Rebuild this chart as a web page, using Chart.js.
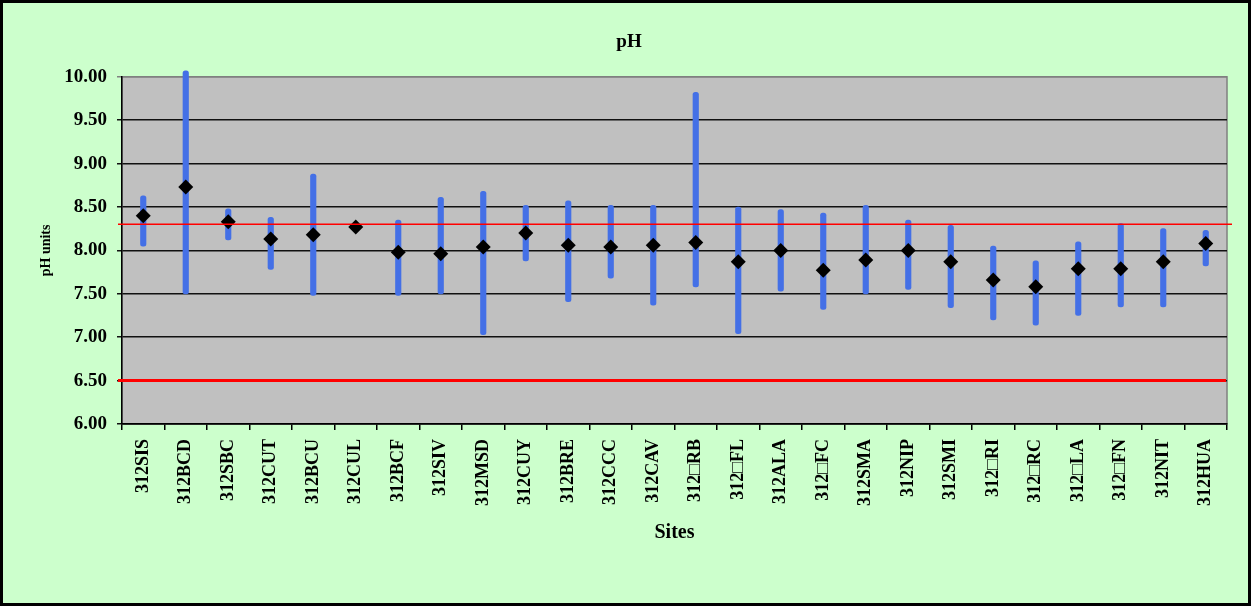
<!DOCTYPE html>
<html>
<head>
<meta charset="utf-8">
<script src="https://cdn.jsdelivr.net/npm/chart.js@4/dist/chart.umd.min.js"></script>
<style>
  html, body { margin: 0; padding: 0; background: #fff; }
</style>
</head>
<body>
<canvas id="phChart" width="1251" height="606"></canvas>
<script>
// sites along the x axis
const sites = ['312SIS', '312BCD', '312SBC', '312CUT', '312BCU', '312CUL', '312BCF', '312SIV', '312MSD',
  '312CUY', '312BRE', '312CCC', '312CAV', '312\u25A1RB', '312\u25A1FL', '312ALA', '312\u25A1FC', '312SMA',
  '312NIP', '312SMI', '312\u25A1RI', '312\u25A1RC', '312\u25A1LA', '312\u25A1FN', '312NIT', '312HUA'];

// mean, min and max pH per site
const phMean = [8.40, 8.73, 8.33, 8.13, 8.18, 8.27, 7.98, 7.96, 8.04, 8.20, 8.06, 8.04, 8.06,
  8.09, 7.87, 8.00, 7.77, 7.89, 8.00, 7.87, 7.66, 7.58, 7.79, 7.79, 7.87, 8.08];
const phMin = [8.05, 7.50, 8.12, 7.78, 7.48, null, 7.48, 7.50, 7.03, 7.88, 7.41, 7.68, 7.37,
  7.58, 7.04, 7.53, 7.32, 7.50, 7.55, 7.34, 7.20, 7.14, 7.25, 7.35, 7.35, 7.82];
const phMax = [8.63, 10.07, 8.48, 8.38, 8.88, null, 8.35, 8.61, 8.68, 8.52, 8.57, 8.52, 8.52,
  9.82, 8.50, 8.47, 8.43, 8.52, 8.35, 8.29, 8.05, 7.88, 8.10, 8.31, 8.25, 8.23];

// guideline values
const upperLimit = 8.3;
const lowerLimit = 6.5;

// y axis range
const yMin = 6, yMax = 10, yStep = 0.5;

const serif = '"Liberation Serif", "Times New Roman", serif';

const ranges = sites.map((s, i) => phMin[i] == null ? null : [phMin[i], phMax[i]]);

const backdrop = {
  id: 'backdrop',
  beforeDraw(chart) {
    const { ctx, chartArea: a } = chart;
    ctx.save();
    ctx.fillStyle = '#CCFFCC';
    ctx.fillRect(0, 0, chart.width, chart.height);
    ctx.fillStyle = '#C0C0C0';
    ctx.fillRect(a.left, a.top, a.right - a.left, a.bottom - a.top);
    ctx.strokeStyle = '#808080';
    ctx.lineWidth = 1.5;
    ctx.strokeRect(a.left, a.top, a.right - a.left, a.bottom - a.top);
    ctx.restore();
  },
  afterDraw(chart) {
    const ctx = chart.ctx;
    ctx.save();
    ctx.strokeStyle = '#000';
    ctx.lineWidth = 3;
    ctx.strokeRect(1.5, 1.5, chart.width - 3, chart.height - 3);
    ctx.restore();
  }
};

// red guideline limits, on top of the bars and markers
const limitLines = {
  id: 'limitLines',
  afterDatasetsDraw(chart) {
    const { ctx, chartArea: a } = chart;
    const y = chart.scales.y;
    ctx.save();
    ctx.strokeStyle = '#FF0000';
    ctx.lineWidth = 1.5;
    ctx.beginPath();
    ctx.moveTo(a.left - 4, y.getPixelForValue(upperLimit));
    ctx.lineTo(a.right + 5, y.getPixelForValue(upperLimit));
    ctx.stroke();
    ctx.lineWidth = 3;
    ctx.beginPath();
    ctx.moveTo(a.left - 4, y.getPixelForValue(lowerLimit));
    ctx.lineTo(a.right - 1, y.getPixelForValue(lowerLimit));
    ctx.stroke();
    ctx.restore();
  }
};

const ctx = document.getElementById('phChart').getContext('2d');

new Chart(ctx, {
  type: 'bar',
  data: {
    labels: sites,
    datasets: [{
      type: 'line',
      label: 'Mean',
      data: phMean,
      showLine: false,
      pointStyle: 'rectRot',
      pointRadius: 7.5,
      pointBackgroundColor: '#000',
      pointBorderColor: '#000',
      pointBorderWidth: 0,
      order: 0,
      clip: false
    }, {
      label: 'Range',
      data: ranges,
      backgroundColor: '#4470E6',
      borderWidth: 0,
      borderRadius: 2.5,
      borderSkipped: false,
      barThickness: 5.5,
      order: 1,
      clip: false
    }]
  },
  options: {
    responsive: false,
    animation: false,
    layout: { padding: { left: 7, right: 0, top: 0, bottom: 61 } },
    plugins: {
      legend: { display: false },
      tooltip: { enabled: false },
      title: {
        display: true,
        text: 'pH',
        color: '#000',
        font: { family: serif, size: 19, weight: 'bold' },
        padding: { top: 31, bottom: 23 }
      }
    },
    scales: {
      x: {
        offset: true,
        grid: {
          offset: true,
          drawOnChartArea: false,
          drawTicks: true,
          tickLength: 6,
          color: '#000',
          lineWidth: 1.5
        },
        border: { display: true, color: '#000', width: 1.5 },
        ticks: {
          autoSkip: false,
          maxRotation: 90,
          minRotation: 90,
          padding: 9,
          color: '#000',
          font: { family: serif, size: 18, weight: 'bold' }
        },
        title: {
          display: true,
          text: 'Sites',
          color: '#000',
          font: { family: serif, size: 20, weight: 'bold' },
          padding: { top: 0, bottom: 0 }
        },
        afterFit(scale) { scale.height = 121; }
      },
      y: {
        min: yMin,
        max: yMax,
        grid: {
          drawTicks: true,
          tickLength: 5,
          lineWidth: 1.5,
          color: (c) => (c.tick && c.tick.value === yMax) ? '#808080' : '#111'
        },
        border: { display: true, color: '#000', width: 1.5 },
        ticks: {
          stepSize: yStep,
          padding: 10,
          color: '#000',
          font: { family: serif, size: 19, weight: 'bold' },
          callback: (v) => Number(v).toFixed(2)
        },
        title: {
          display: true,
          text: 'pH units',
          color: '#000',
          font: { family: serif, size: 14, weight: 'bold' },
          padding: { top: 31, bottom: 0 }
        },
        afterFit(scale) { scale.width = 115; }
      },
      yRight: {
        position: 'right',
        display: true,
        grid: { display: false },
        border: { display: false },
        ticks: { display: false },
        afterFit(scale) { scale.width = 24; }
      }
    }
  },
  plugins: [backdrop, limitLines]
});
</script>
</body>
</html>
